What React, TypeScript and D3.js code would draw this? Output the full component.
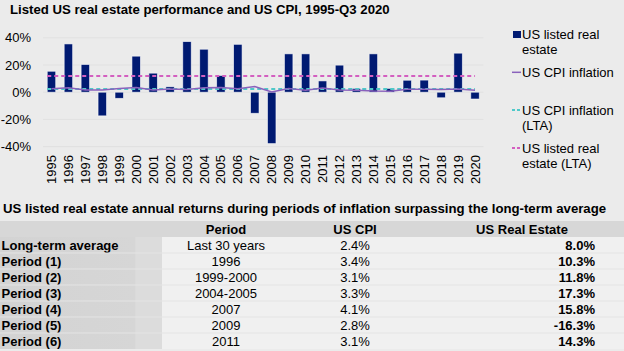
import * as React from 'react';
import * as d3 from 'd3';

// chart data
const years = ['1995', '1996', '1997', '1998', '1999', '2000', '2001', '2002', '2003', '2004', '2005', '2006', '2007',
    '2008', '2009', '2010', '2011', '2012', '2013', '2014', '2015', '2016', '2017', '2018', '2019', '2020'];
const reReturns = [15.4, 35.5, 20.4, -17.4, -4.5, 26.5, 14.0, 4.0, 37.2, 31.6, 12.3, 35.2, -15.5, -37.8, 28.2, 28.2,
    8.3, 19.9, 2.8, 28.2, 2.8, 8.8, 8.9, -4.1, 28.7, -5.0];
const cpi = [2.5, 3.3, 1.7, 1.6, 2.7, 3.4, 1.6, 2.4, 1.9, 3.3, 3.4, 2.5, 4.1, 0.1, 2.7, 1.5, 3.0, 1.7, 1.5, 0.8,
    0.7, 2.1, 2.1, 1.9, 2.3, 1.4];
const cpiLta = 2.4;
const reLta = 11.9;
const yTicks = [40, 20, 0, -20, -40];

// table data
const tableTitle = 'US listed real estate annual returns during periods of inflation surpassing the long-term average';
const tableHeaders = ['Period', 'US CPI', 'US Real Estate'];
const rowLabels = ['Long-term average', 'Period (1)', 'Period (2)', 'Period (3)', 'Period (4)', 'Period (5)', 'Period (6)'];
const periods = ['Last 30 years', '1996', '1999-2000', '2004-2005', '2007', '2009', '2011'];
const cpiValues = ['2.4%', '3.4%', '3.1%', '3.3%', '4.1%', '2.8%', '3.1%'];
const reValues = ['8.0%', '10.3%', '11.8%', '17.3%', '15.8%', '-16.3%', '14.3%'];

const FONT = '"Liberation Sans", Arial, sans-serif';

export default function App() {
    const ref = React.useRef<SVGSVGElement>(null);

    React.useEffect(() => {
        const svg = d3.select(ref.current);
        svg.selectAll('*').remove();
        const W = 624, H = 351;

        svg.append('rect').attr('width', W).attr('height', H).attr('fill', '#ebebeb');

        svg.append('text')
            .attr('x', 10).attr('y', 13.5)
            .style('font-size', '13.2px').style('font-weight', 'bold')
            .text('Listed US real estate performance and US CPI, 1995-Q3 2020');

        const xScale = d3.scaleBand().domain(years).range([43, 483.5]).paddingInner(0.5).paddingOuter(0.25);
        const yScale = d3.scaleLinear().domain([-40, 40]).range([146.6, 37.8]);
        const cx = (d: string) => (xScale(d) as number) + xScale.bandwidth() / 2;

        // gridlines
        svg.append('g').selectAll('line').data(yTicks).enter().append('line')
            .attr('x1', 43).attr('x2', 483.5)
            .attr('y1', d => yScale(d)).attr('y2', d => yScale(d))
            .attr('stroke', '#e1e1e1').attr('stroke-width', 1);

        const yAxis = d3.axisLeft(yScale).tickValues(yTicks).tickSize(0).tickPadding(0).tickFormat(d => d + '%');
        const gy = svg.append('g').attr('transform', 'translate(31,0)').call(yAxis);
        gy.select('.domain').remove();
        gy.selectAll('text').style('font-size', '13px').style('font-family', FONT).attr('fill', '#000');

        // bars
        svg.append('g').selectAll('rect').data(years).enter().append('rect')
            .attr('x', d => xScale(d) as number)
            .attr('width', xScale.bandwidth())
            .attr('y', (d, i) => yScale(Math.max(0, reReturns[i])))
            .attr('height', (d, i) => Math.abs(yScale(reReturns[i]) - yScale(0)))
            .attr('fill', '#001a72')
            .attr('stroke', '#ffffff').attr('stroke-opacity', 0.7).attr('stroke-width', 0.8);

        const xStart = xScale(years[0]) as number;
        const xEnd = cx(years[years.length - 1]);

        // LTA lines
        svg.append('line').attr('x1', xStart).attr('x2', xEnd)
            .attr('y1', yScale(reLta)).attr('y2', yScale(reLta))
            .attr('stroke', '#d35fc0').attr('stroke-width', 2).attr('stroke-dasharray', '4,3');
        svg.append('line').attr('x1', xStart).attr('x2', xEnd)
            .attr('y1', yScale(cpiLta)).attr('y2', yScale(cpiLta))
            .attr('stroke', '#4fc9c9').attr('stroke-width', 2).attr('stroke-dasharray', '4,3');

        // CPI line
        const line = d3.line<number>().x((d, i) => cx(years[i])).y(d => yScale(d));
        svg.append('path').datum(cpi).attr('d', line)
            .attr('fill', 'none').attr('stroke', '#8a62bc').attr('stroke-width', 1.5);

        // x labels
        svg.append('g').selectAll('text').data(years).enter().append('text')
            .attr('transform', d => 'translate(' + cx(d) + ',155) rotate(-90)')
            .attr('text-anchor', 'end').attr('dy', '0.35em')
            .style('font-size', '13px')
            .text(d => d);

        // legend
        const lx = 513, tx = 522;
        const lg = svg.append('g').style('font-size', '13px');
        lg.append('rect').attr('x', lx).attr('y', 31).attr('width', 8).attr('height', 7).attr('fill', '#001a72');
        lg.append('text').attr('x', tx).attr('y', 38.5).text('US listed real');
        lg.append('text').attr('x', tx).attr('y', 53.5).text('estate');
        lg.append('line').attr('x1', lx - 1).attr('x2', lx + 8).attr('y1', 72.3).attr('y2', 72.3)
            .attr('stroke', '#8a62bc').attr('stroke-width', 1.5);
        lg.append('text').attr('x', tx).attr('y', 76.5).text('US CPI inflation');
        lg.append('line').attr('x1', lx - 1).attr('x2', lx + 8).attr('y1', 110).attr('y2', 110)
            .attr('stroke', '#4fc9c9').attr('stroke-width', 2).attr('stroke-dasharray', '3,2');
        lg.append('text').attr('x', tx).attr('y', 114.5).text('US CPI inflation');
        lg.append('text').attr('x', tx).attr('y', 130).text('(LTA)');
        lg.append('line').attr('x1', lx - 1).attr('x2', lx + 8).attr('y1', 148).attr('y2', 148)
            .attr('stroke', '#d35fc0').attr('stroke-width', 2).attr('stroke-dasharray', '3,2');
        lg.append('text').attr('x', tx).attr('y', 152.5).text('US listed real');
        lg.append('text').attr('x', tx).attr('y', 168).text('estate (LTA)');

        // table
        svg.append('text')
            .attr('x', 3).attr('y', 212.5)
            .style('font-size', '13.2px').style('font-weight', 'bold')
            .text(tableTitle);

        const headTop = 221, rowH = 16, bodyTop = 237, firstColW = 162;
        svg.append('rect').attr('x', 0).attr('y', headTop).attr('width', W).attr('height', bodyTop - headTop).attr('fill', '#d7d7d7');

        const defs = svg.append('defs');
        const grad = defs.append('linearGradient').attr('id', 'firstcol').attr('x1', 0).attr('x2', 1).attr('y1', 0).attr('y2', 0);
        grad.append('stop').attr('offset', '0%').attr('stop-color', '#d3d3d3');
        grad.append('stop').attr('offset', '83%').attr('stop-color', '#d6d6d6');
        grad.append('stop').attr('offset', '84%').attr('stop-color', '#dcdcdc');
        grad.append('stop').attr('offset', '100%').attr('stop-color', '#dcdcdc');

        const rows = svg.append('g').style('font-size', '13px');
        rowLabels.forEach((label, i) => {
            const y0 = bodyTop + i * rowH;
            rows.append('rect').attr('x', 0).attr('y', y0).attr('width', firstColW).attr('height', rowH).attr('fill', 'url(#firstcol)');
            rows.append('rect').attr('x', firstColW).attr('y', y0).attr('width', W - firstColW).attr('height', rowH).attr('fill', '#f0f0f0');
            if (i > 0) {
                rows.append('line').attr('x1', 0).attr('x2', W).attr('y1', y0).attr('y2', y0)
                    .attr('stroke', '#e4e4e4').attr('stroke-width', 1);
            }
            const ty = y0 + rowH / 2 + 4.7;
            rows.append('text').attr('x', 1.5).attr('y', ty).style('font-weight', 'bold').text(label);
            rows.append('text').attr('x', 226).attr('y', ty).attr('text-anchor', 'middle').text(periods[i]);
            rows.append('text').attr('x', 355).attr('y', ty).attr('text-anchor', 'middle').text(cpiValues[i]);
            rows.append('text').attr('x', 595).attr('y', ty).attr('text-anchor', 'end').style('font-weight', 'bold').text(reValues[i]);
        });

        const headX = [226, 355, 522];
        svg.append('g').selectAll('text').data(tableHeaders).enter().append('text')
            .attr('x', (d, i) => headX[i]).attr('y', headTop + 12.7)
            .attr('text-anchor', 'middle')
            .style('font-size', '13px').style('font-weight', 'bold')
            .text(d => d);
    }, []);

    return (
        <svg ref={ref} width={624} height={351}
            style={{ position: 'absolute', left: 0, top: 0, fontFamily: FONT, display: 'block' }} />
    );
}
